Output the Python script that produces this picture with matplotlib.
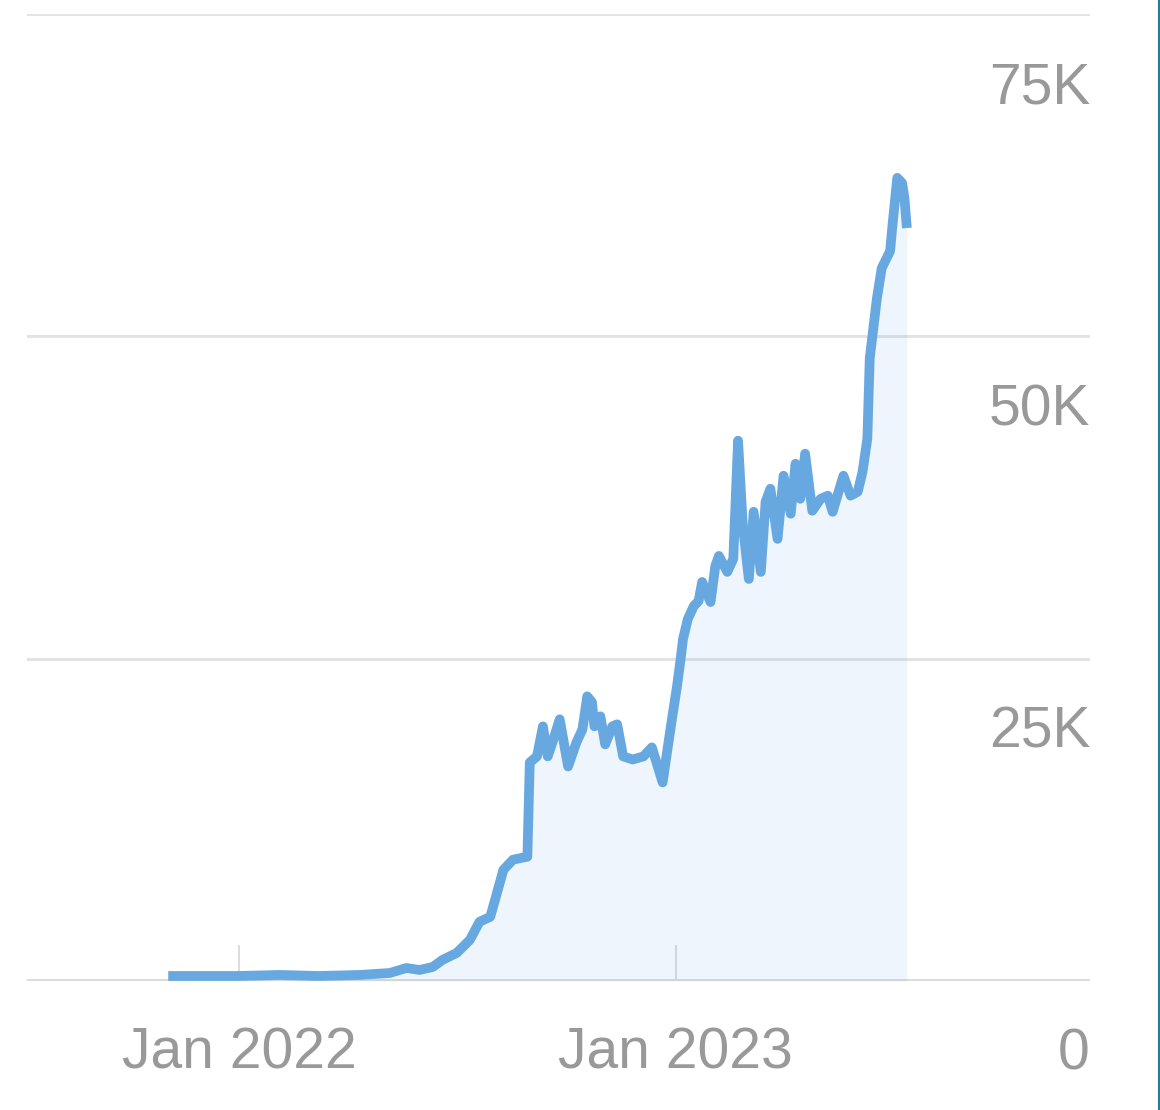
import numpy as np
import pandas as pd
import matplotlib
matplotlib.use("Agg")
import matplotlib.pyplot as plt
from matplotlib.lines import Line2D
from matplotlib.transforms import offset_copy

# values
dates = [
    "2021-11-03", "2021-11-29", "2022-01-01", "2022-02-04", "2022-03-09", "2022-04-12",
    "2022-05-07", "2022-05-21", "2022-06-01", "2022-06-12", "2022-06-20", "2022-07-02",
    "2022-07-13", "2022-07-21", "2022-07-30", "2022-08-03", "2022-08-10", "2022-08-18",
    "2022-08-30", "2022-09-01", "2022-09-07", "2022-09-12", "2022-09-16", "2022-09-20",
    "2022-09-26", "2022-10-03", "2022-10-10", "2022-10-15", "2022-10-19", "2022-10-23",
    "2022-10-25", "2022-10-30", "2022-11-03", "2022-11-09", "2022-11-13", "2022-11-18",
    "2022-11-26", "2022-12-05", "2022-12-12", "2022-12-21", "2022-12-25", "2022-12-29",
    "2023-01-02", "2023-01-05", "2023-01-07", "2023-01-11", "2023-01-16", "2023-01-20",
    "2023-01-23", "2023-01-30", "2023-02-03", "2023-02-06", "2023-02-13", "2023-02-18",
    "2023-02-22", "2023-02-26", "2023-03-03", "2023-03-07", "2023-03-13", "2023-03-17",
    "2023-03-21", "2023-03-27", "2023-04-01", "2023-04-07", "2023-04-11", "2023-04-15",
    "2023-04-19", "2023-04-25", "2023-05-02", "2023-05-08", "2023-05-12", "2023-05-21",
    "2023-05-27", "2023-06-02", "2023-06-06", "2023-06-10", "2023-06-12", "2023-06-18",
    "2023-06-22", "2023-06-29", "2023-07-01", "2023-07-05", "2023-07-09", "2023-07-11",
    "2023-07-13",
]
values = [
    390, 390, 390, 470, 390, 470,
    620, 1010, 855, 1090, 1630, 2180,
    3190, 4590, 4980, 6300, 8630, 9410,
    9640, 16950, 17420, 19750, 17420, 18510,
    20300, 16640, 18510, 19520, 22080, 21620,
    19750, 20530, 18350, 19750, 19910, 17420,
    17180, 17420, 18120, 15400, 17960, 20450,
    22860, 24960, 26520, 28070, 29080, 29470,
    30950, 29390, 32190, 32970, 31730, 32740,
    41910, 35300, 31180, 36390, 31730, 37170,
    38180, 34290, 39190, 36240, 40120, 37400,
    40900, 36470, 37400, 37640, 36390, 39190,
    37640, 37950, 39500, 42070, 48290, 52960,
    55290, 56610, 58630, 62290, 61900, 60730,
    58400,
]
y_ticks = [0, 25000, 50000, 75000]
y_tick_labels = ["0", "25K", "50K", "75K"]
x_ticks = ["2022-01-01", "2023-01-01"]
x_tick_labels = ["Jan 2022", "Jan 2023"]

x = pd.to_datetime(dates)
y = np.array(values)

W, H = 1160, 1110
fig = plt.figure(figsize=(W / 100, H / 100), dpi=100)
ax = fig.add_axes([27 / W, (H - 981) / H, (1090 - 27) / W, (981 - 14) / H])

lineColor = "#68a8e0"
labelColor = "#999999"
fontList = ["Liberation Sans", "DejaVu Sans"]

ax.fill_between(x, y, 0, color="#5aa0e8", alpha=0.1, linewidth=0, zorder=3)
ax.plot(x, y, color=lineColor, linewidth=7, solid_joinstyle="round",
        solid_capstyle="butt", zorder=4)

ax.set_ylim(0, 75000)
ax.set_xlim(pd.Timestamp("2021-07-08"), pd.Timestamp("2023-12-13"))

for v in y_ticks[1:]:
    ax.axhline(v, color="#e3e3e3", linewidth=2.2, zorder=1)
ax.axhline(0, color="#dcdcdc", linewidth=2.8, zorder=1)

for s in ax.spines.values():
    s.set_visible(False)

ax.set_yticks([])
ax.set_xticks(pd.to_datetime(x_ticks))
ax.set_xticklabels(x_tick_labels, fontsize=41, color=labelColor, family=fontList)
ax.tick_params(axis="x", direction="in", length=26, width=1.5,
               color="#dddddd", pad=33)

# y labels sit below their gridlines at the right edge
trans = offset_copy(ax.get_yaxis_transform(), fig=fig, x=0, y=-74, units="dots")
for v, lab in zip(y_ticks, y_tick_labels):
    ax.text(1.0, v, lab, transform=trans, ha="right", va="center",
            fontsize=41, color=labelColor, family=fontList)

fig.add_artist(Line2D([1158.5 / W, 1158.5 / W], [0, 1], color="#1a7f9a",
                      linewidth=1.5, transform=fig.transFigure))

fig.savefig("out.png", dpi=100)
